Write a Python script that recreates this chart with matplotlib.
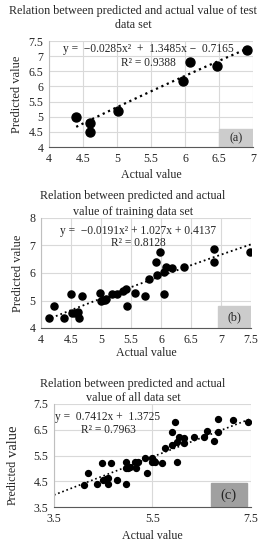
import numpy as np
import matplotlib
matplotlib.use("Agg")
import matplotlib.pyplot as plt
from matplotlib.patches import Rectangle

# test data set (a)
test_actual = [4.40, 4.60, 4.60, 5.01, 5.97, 6.07, 6.47, 6.91]
test_pred = [4.98, 4.78, 4.51, 5.20, 6.18, 6.82, 6.69, 7.20]
test_coef = [-0.0285, 1.3485, -0.7165]

# training data set (b)
train_actual = [4.13, 4.22, 4.39, 4.50, 4.52, 4.56, 4.61, 4.63, 4.68, 4.99, 5.00,
                5.03, 5.06, 5.08, 5.19, 5.26, 5.37, 5.41, 5.43, 5.57, 5.73, 5.80,
                5.92, 5.94, 5.99, 6.05, 6.05, 6.09, 6.18, 6.38, 6.88, 6.88, 7.49]
train_pred = [4.35, 4.80, 4.37, 5.24, 4.53, 4.55, 4.58, 4.36, 5.18, 5.26, 4.99,
              5.01, 5.03, 5.05, 5.23, 5.23, 5.36, 5.40, 4.80, 5.27, 5.18, 5.77,
              6.40, 5.93, 6.75, 6.03, 5.23, 6.23, 6.18, 6.23, 6.88, 6.40, 6.75]
train_coef = [-0.0191, 1.027, 0.4137]

# all data set (c)
all_actual = [4.10, 4.20, 4.37, 4.47, 4.50, 4.55, 4.60, 4.60, 4.66, 4.77, 4.96,
              4.96, 5.00, 5.04, 4.96, 5.14, 5.20, 5.17, 5.35, 5.38, 5.48, 5.50,
              5.53, 5.55, 5.69, 5.75, 5.89, 5.89, 5.96, 6.00, 6.00, 6.04, 6.13,
              6.13, 6.34, 6.55, 6.60, 6.75, 6.84, 6.84, 7.13, 7.43]
all_pred = [4.35, 4.81, 4.38, 5.22, 4.55, 4.60, 4.62, 4.38, 5.19, 4.55, 5.26,
            5.00, 5.02, 5.05, 4.38, 5.26, 5.26, 5.00, 5.39, 4.81, 5.39, 5.26,
            5.30, 5.26, 5.20, 5.80, 5.91, 6.40, 6.79, 6.04, 5.26, 6.23, 6.19,
            5.97, 6.23, 6.21, 6.45, 6.06, 6.42, 6.90, 6.88, 6.79]
all_coef = [0.7412, 1.3725]

plt.rcParams['font.family'] = ['Liberation Serif', 'DejaVu Serif']
W, H = 266, 550
fig = plt.figure(figsize=(W / 100, H / 100), dpi=100)
TXT = '#262626'
GRID = '#d9d9d9'
TFS = 8.7  # title size
LFS = 8.6  # axis label size


def px_axes(l, t, r, b):
    return fig.add_axes([l / W, 1 - b / H, (r - l) / W, (b - t) / H])


def ftext(x, y, s, **kw):
    fig.text(x / W, 1 - y / H, s, ha='center', va='center', color=TXT, **kw)


def style(ax, xlim, ylim, xt, yt, xl, yl):
    ax.set_xlim(*xlim)
    ax.set_ylim(*ylim)
    ax.set_xticks(xt)
    ax.set_xticklabels(xl)
    ax.set_yticks(yt)
    ax.set_yticklabels(yl)
    ax.grid(True, color=GRID, lw=0.8)
    ax.set_axisbelow(True)
    for s in ['top', 'right']:
        ax.spines[s].set_visible(False)
    ax.spines['left'].set_color('#bfbfbf')
    ax.spines['bottom'].set_color('#595959')
    ax.tick_params(length=0, labelsize=8.6, colors=TXT, pad=4)


# (a)
ftext(133, 11, 'Relation between predicted and actual value of test', fontsize=TFS)
ftext(133, 25, 'data set', fontsize=TFS)
ax = px_axes(49, 41, 253, 147)
style(ax, (4, 7), (4, 7.5), np.arange(4, 7.01, 0.5), np.arange(4, 7.51, 0.5),
      ['4', '4.5', '5', '5.5', '6', '6.5', '7'],
      ['4', '4.5', '5', '5.5', '6', '6.5', '7', '7.5'])
ax.add_patch(Rectangle((6.5, 4), 0.5, 0.6, color='#cccccc', zorder=1))
ax.text(6.75, 4.28, '(a)', ha='center', va='center', fontsize=8.7, color=TXT)
xs = np.linspace(4.4, 6.9, 50)
ax.plot(xs, np.polyval(test_coef, xs), ':', color='black', lw=1.6, zorder=2)
ax.scatter(test_actual, test_pred, s=42, color='black', zorder=3)
ax.set_xlabel('Actual value', fontsize=LFS, color=TXT, labelpad=3)
ax.set_ylabel('Predicted value', fontsize=LFS + 0.4, color=TXT, labelpad=4)
ftext(148, 49, 'y =  \u22120.0285x\u00b2  +  1.3485x \u2212  0.7165', fontsize=8.3)
ftext(148, 63, 'R\u00b2 = 0.9388', fontsize=8.3)

# (b)
ftext(133, 196, 'Relation between predicted and actual', fontsize=TFS)
ftext(133, 212, 'value of training data set', fontsize=TFS)
ax = px_axes(41, 218, 251, 328)
style(ax, (4, 7.5), (4, 8), np.arange(4, 7.51, 0.5), np.arange(4, 8.01, 1),
      ['4', '4.5', '5', '5.5', '6', '6.5', '7', '7.5'],
      ['4', '5', '6', '7', '8'])
ax.add_patch(Rectangle((6.95, 4), 0.55, 0.8, color='#cccccc', zorder=1))
ax.text(7.22, 4.38, '(b)', ha='center', va='center', fontsize=8.7, color=TXT)
xs = np.linspace(4.1, 7.5, 50)
ax.plot(xs, np.polyval(train_coef, xs), ':', color='black', lw=1.3, zorder=2)
ax.scatter(train_actual, train_pred, s=26, color='black', zorder=3)
ax.set_xlabel('Actual value', fontsize=LFS, color=TXT, labelpad=1)
ax.set_ylabel('Predicted value', fontsize=LFS + 0.4, color=TXT, labelpad=4)
ftext(138, 231, 'y =  \u22120.0191x\u00b2 + 1.027x + 0.4137', fontsize=8.3)
ftext(138, 243, 'R\u00b2 = 0.8128', fontsize=8.3)

# (c)
ftext(133, 384, 'Relation between predicted and actual', fontsize=TFS)
ftext(133, 398, 'value of all data set', fontsize=TFS)
ax = px_axes(54, 404, 251, 507)
style(ax, (3.5, 7.5), (3.5, 7.5), [3.5, 5.5, 7.5], [3.5, 4.5, 5.5, 6.5, 7.5],
      ['3.5', '5.5', '7.5'], ['3.5', '4.5', '5.5', '6.5', '7.5'])
ax.add_patch(Rectangle((6.69, 3.55), 0.73, 0.88, color='#a0a0a0', zorder=1))
ax.text(7.05, 3.97, '(c)', ha='center', va='center', fontsize=10.5, color=TXT)
xs = np.linspace(3.5, 7.5, 50)
ax.plot(xs, np.polyval(all_coef, xs), ':', color='black', lw=1.2, zorder=2)
ax.scatter(all_actual, all_pred, s=18, color='black', zorder=3)
ax.set_xlabel('Actual value', fontsize=LFS, color=TXT, labelpad=4)
ax.text(-0.208, 0.46, 'Predicted', transform=ax.transAxes, rotation=90,
        ha='center', va='top', fontsize=LFS, color=TXT)
ax.text(-0.208, 0.49, 'value', transform=ax.transAxes, rotation=90,
        ha='center', va='bottom', fontsize=10.5, color=TXT)
ftext(108, 417, 'y =  0.7412x +  1.3725', fontsize=8.3)
ftext(108, 430, 'R\u00b2 = 0.7963', fontsize=8.3)

fig.savefig('out.png', dpi=100)
